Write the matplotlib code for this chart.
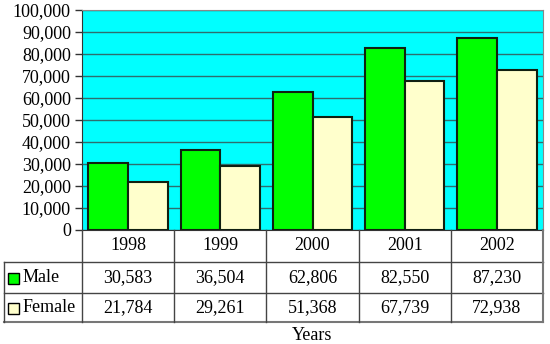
import matplotlib
matplotlib.use("Agg")
import matplotlib.pyplot as plt
import numpy as np

years = ["1998", "1999", "2000", "2001", "2002"]
male = [30583, 36504, 62806, 82550, 87230]
female = [21784, 29261, 51368, 67739, 72938]
series_names = ["Male", "Female"]
series_colors = ["#00FF00", "#FFFFCC"]
yticks = list(range(0, 100001, 10000))
x_title = "Years"

plt.rcParams["font.family"] = ["Liberation Serif", "DejaVu Serif"]

W, H = 550, 344
fig = plt.figure(figsize=(W / 100, H / 100), dpi=100)

# plot area in pixel coordinates
L, R, T, B = 82, 543, 10, 230
ax = fig.add_axes([L / W, 1 - B / H, (R - L) / W, (B - T) / H])
ax.set_facecolor("#00FFFF")

n = len(years)
x = np.arange(n)
bw = 0.43
ax.bar(x - bw / 2, male, bw, color=series_colors[0], edgecolor="#102010", linewidth=1.5, zorder=3)
ax.bar(x + bw / 2, female, bw, color=series_colors[1], edgecolor="#102010", linewidth=1.5, zorder=3)

fs = 13
ax.set_xlim(-0.5, n - 0.5)
ax.set_ylim(0, 100000)
ax.set_yticks(yticks)
ax.set_yticklabels([f"{v:,}" for v in yticks], fontsize=fs)
ax.set_xticks([])
ax.tick_params(axis="y", length=5, width=1, color="#333333", pad=3)
ax.grid(axis="y", color="#2E6E6E", linewidth=1, zorder=1)
for side in ["top", "right"]:
    ax.spines[side].set_color("#888888")
ax.spines["left"].set_color("#333333")
ax.spines["bottom"].set_color("#333333")

# overlay in pixel coordinates for the data table
ov = fig.add_axes([0, 0, 1, 1], zorder=5)
ov.set_xlim(0, W)
ov.set_ylim(H, 0)
ov.axis("off")
ov.patch.set_alpha(0)

col_w = (R - L) / n
rows_y = [230, 262, 293, 322]
lc = "#444444"
lw = 1
# horizontal lines
ov.plot([4, R], [rows_y[1]] * 2, color=lc, lw=lw)
ov.plot([4, R], [rows_y[2]] * 2, color=lc, lw=lw)
ov.plot([4, R], [rows_y[3]] * 2, color="#777777", lw=1.5)
# vertical lines
ov.plot([4, 4], [rows_y[1], rows_y[3]], color=lc, lw=lw)
for i in range(n + 1):
    xx = L + i * col_w
    c = "#777777" if i == n else lc
    ov.plot([xx, xx], [rows_y[0], rows_y[3]], color=c, lw=1.5 if i == n else lw)

for i, yr in enumerate(years):
    cx = L + (i + 0.5) * col_w
    ov.text(cx, (rows_y[0] + rows_y[1]) / 2, yr, ha="center", va="center", fontsize=fs)
    ov.text(cx, (rows_y[1] + rows_y[2]) / 2, f"{male[i]:,}", ha="center", va="center", fontsize=fs)
    ov.text(cx, (rows_y[2] + rows_y[3]) / 2, f"{female[i]:,}", ha="center", va="center", fontsize=fs)

for k, (name, col) in enumerate(zip(series_names, series_colors)):
    cy = (rows_y[k + 1] + rows_y[k + 2]) / 2
    ov.add_patch(plt.Rectangle((8, cy - 5), 11, 11, facecolor=col, edgecolor="black", lw=1))
    ov.text(23, cy, name, ha="left", va="center", fontsize=fs)

ov.text((L + R) / 2, 336, x_title, ha="center", va="center", fontsize=fs)

fig.savefig("out.png", dpi=100)
